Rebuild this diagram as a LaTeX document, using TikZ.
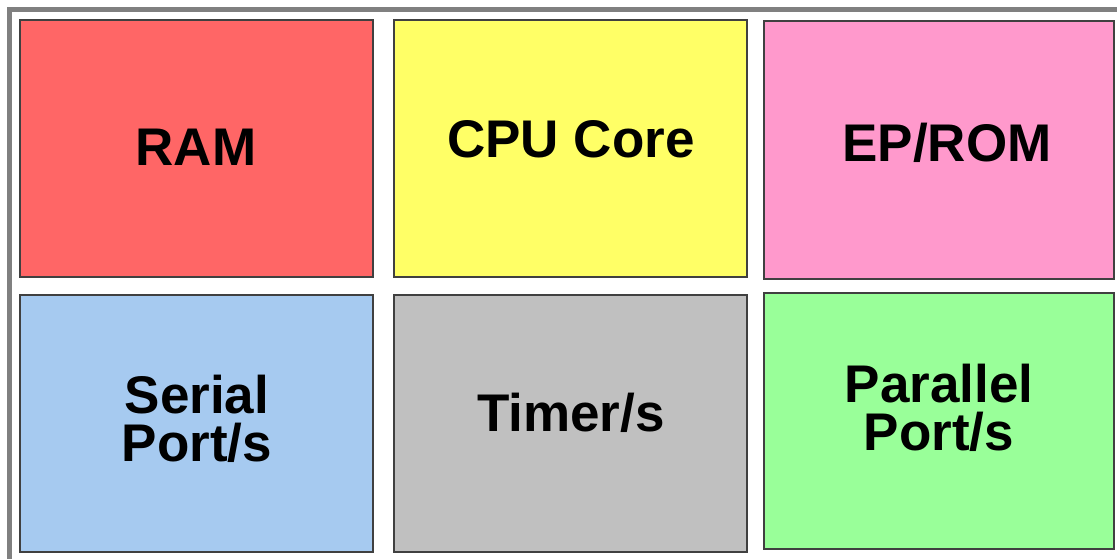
\documentclass[tikz,border=0pt]{standalone}
\usepackage{fontspec}
\setmainfont{Liberation Sans}
\usepackage{tikz}
\usetikzlibrary{positioning}

\definecolor{ramred}{HTML}{FF6666}
\definecolor{cpuyellow}{HTML}{FFFF66}
\definecolor{rompink}{HTML}{FF99CC}
\definecolor{serialblue}{HTML}{A6CAF0}
\definecolor{timergray}{HTML}{C0C0C0}
\definecolor{parallelgreen}{HTML}{99FF99}
\definecolor{edgegray}{HTML}{404040}
\definecolor{framegray}{HTML}{808080}

\begin{document}
\begin{tikzpicture}[x=1pt,y=-1pt,
    block/.style={draw=edgegray, line width=1.8pt, inner sep=0pt},
    unitlabel/.style={font=\bfseries\fontsize{53}{48}\selectfont, align=center, anchor=base}]
  \useasboundingbox (0,0) rectangle (1117,558);
  \begin{scope}
    \clip (0,0) rectangle (1117,558);
    % outer frame, cut off at the right and bottom
    \draw[framegray, line width=5pt] (9,9) rectangle (1130,570);
  \end{scope}
  % top row
  \draw[block, fill=ramred] (20,20) rectangle (373,277) node[pos=.5] (ram) {};
  \draw[block, fill=cpuyellow] (394,20) rectangle (747,277) node[pos=.5] (cpu) {};
  \draw[block, fill=rompink] (764,21) rectangle (1114,279) node[pos=.5] (rom) {};
  % bottom row
  \draw[block, fill=serialblue] (20,295) rectangle (373,552) node[pos=.5] (serial) {};
  \draw[block, fill=timergray] (394,295) rectangle (747,552) node[pos=.5] (timer) {};
  \draw[block, fill=parallelgreen] (764,293) rectangle (1114,549) node[pos=.5] (parallel) {};
  % labels (base = last line's baseline)
  \node[unitlabel] (ramtext) at (196,165) {RAM};
  \node[unitlabel] (cputext) at (571,157) {CPU Core};
  \node[unitlabel] (romtext) at (947,161) {EP/ROM};
  \node[unitlabel] (serialtext) at (197,461) {Serial\\Port/s};
  \node[unitlabel] (timertext) at (571,431) {Timer/s};
  \node[unitlabel] (paralleltext) at (939,450) {Parallel\\Port/s};
\end{tikzpicture}
\end{document}
